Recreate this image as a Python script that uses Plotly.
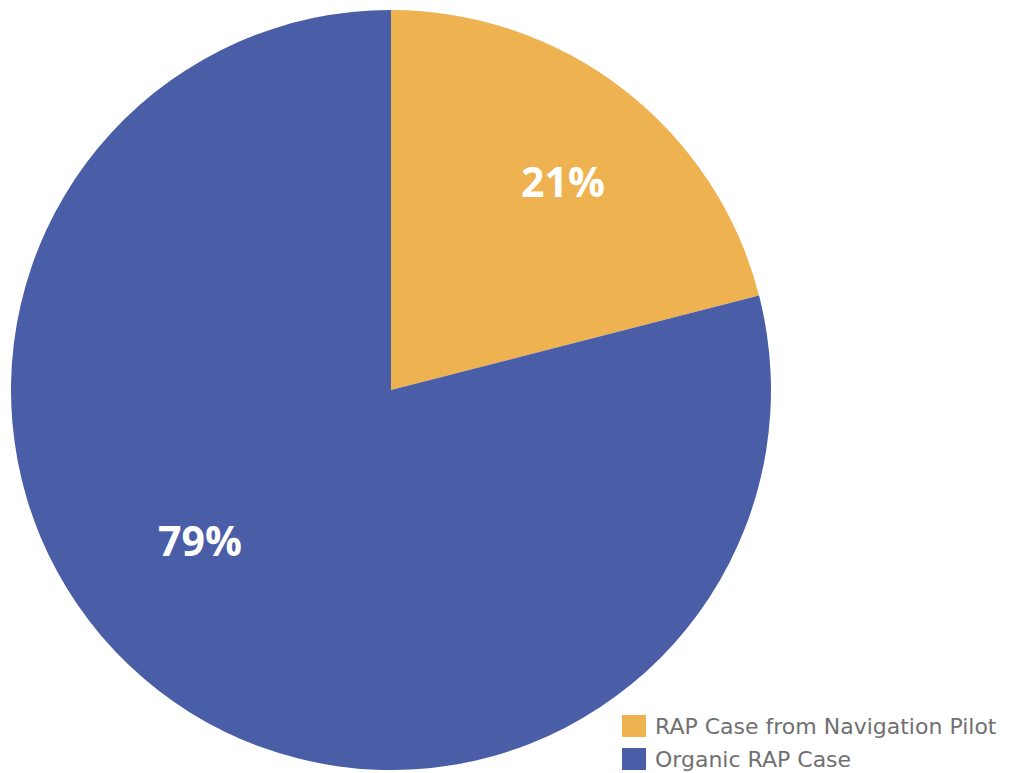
import plotly.graph_objects as go

# Share of RAP cases by origin
labels = ["RAP Case from Navigation Pilot", "Organic RAP Case"]
values = [21, 79]
colors = ["#EEB350", "#4A5EA8"]

W, H = 1027, 773
cx, cy, r = 391, 390, 380

fig = go.Figure(
    go.Pie(
        labels=labels,
        values=values,
        marker=dict(colors=colors, line=dict(width=0)),
        sort=False,
        direction="clockwise",
        rotation=0,
        textinfo="none",
        hoverinfo="label+percent",
        showlegend=False,
        domain=dict(x=[(cx - r) / W, (cx + r) / W], y=[1 - (cy + r) / H, 1 - (cy - r) / H]),
    )
)

total = sum(values)
# Percentage labels inside the slices
label_pos = [(563, 181), (200, 540)]
annotations = []
for v, (px, py) in zip(values, label_pos):
    annotations.append(
        dict(
            x=px / W, y=1 - py / H, xref="paper", yref="paper",
            text=f"{round(100 * v / total)}%", showarrow=False,
            font=dict(family="Open Sans", size=41, color="white", weight="bold"),
            xanchor="center", yanchor="middle",
        )
    )

# Legend: colour squares with category names
shapes = []
for i, (lab, col) in enumerate(zip(labels, colors)):
    top = 715 + i * 33
    shapes.append(dict(type="rect", xref="paper", yref="paper",
                       x0=622 / W, x1=646 / W, y0=1 - (top + 22) / H, y1=1 - top / H,
                       fillcolor=col, line=dict(width=0)))
    annotations.append(dict(x=653 / W, y=1 - (top + 11) / H, xref="paper", yref="paper",
                            text=lab, showarrow=False, xanchor="left", yanchor="middle",
                            font=dict(family="DejaVu Sans", size=22, color="#707070")))

fig.update_layout(
    width=W, height=H,
    margin=dict(l=0, r=0, t=0, b=0),
    paper_bgcolor="white",
    plot_bgcolor="white",
    annotations=annotations,
    shapes=shapes,
)

fig.write_html("out.html")
